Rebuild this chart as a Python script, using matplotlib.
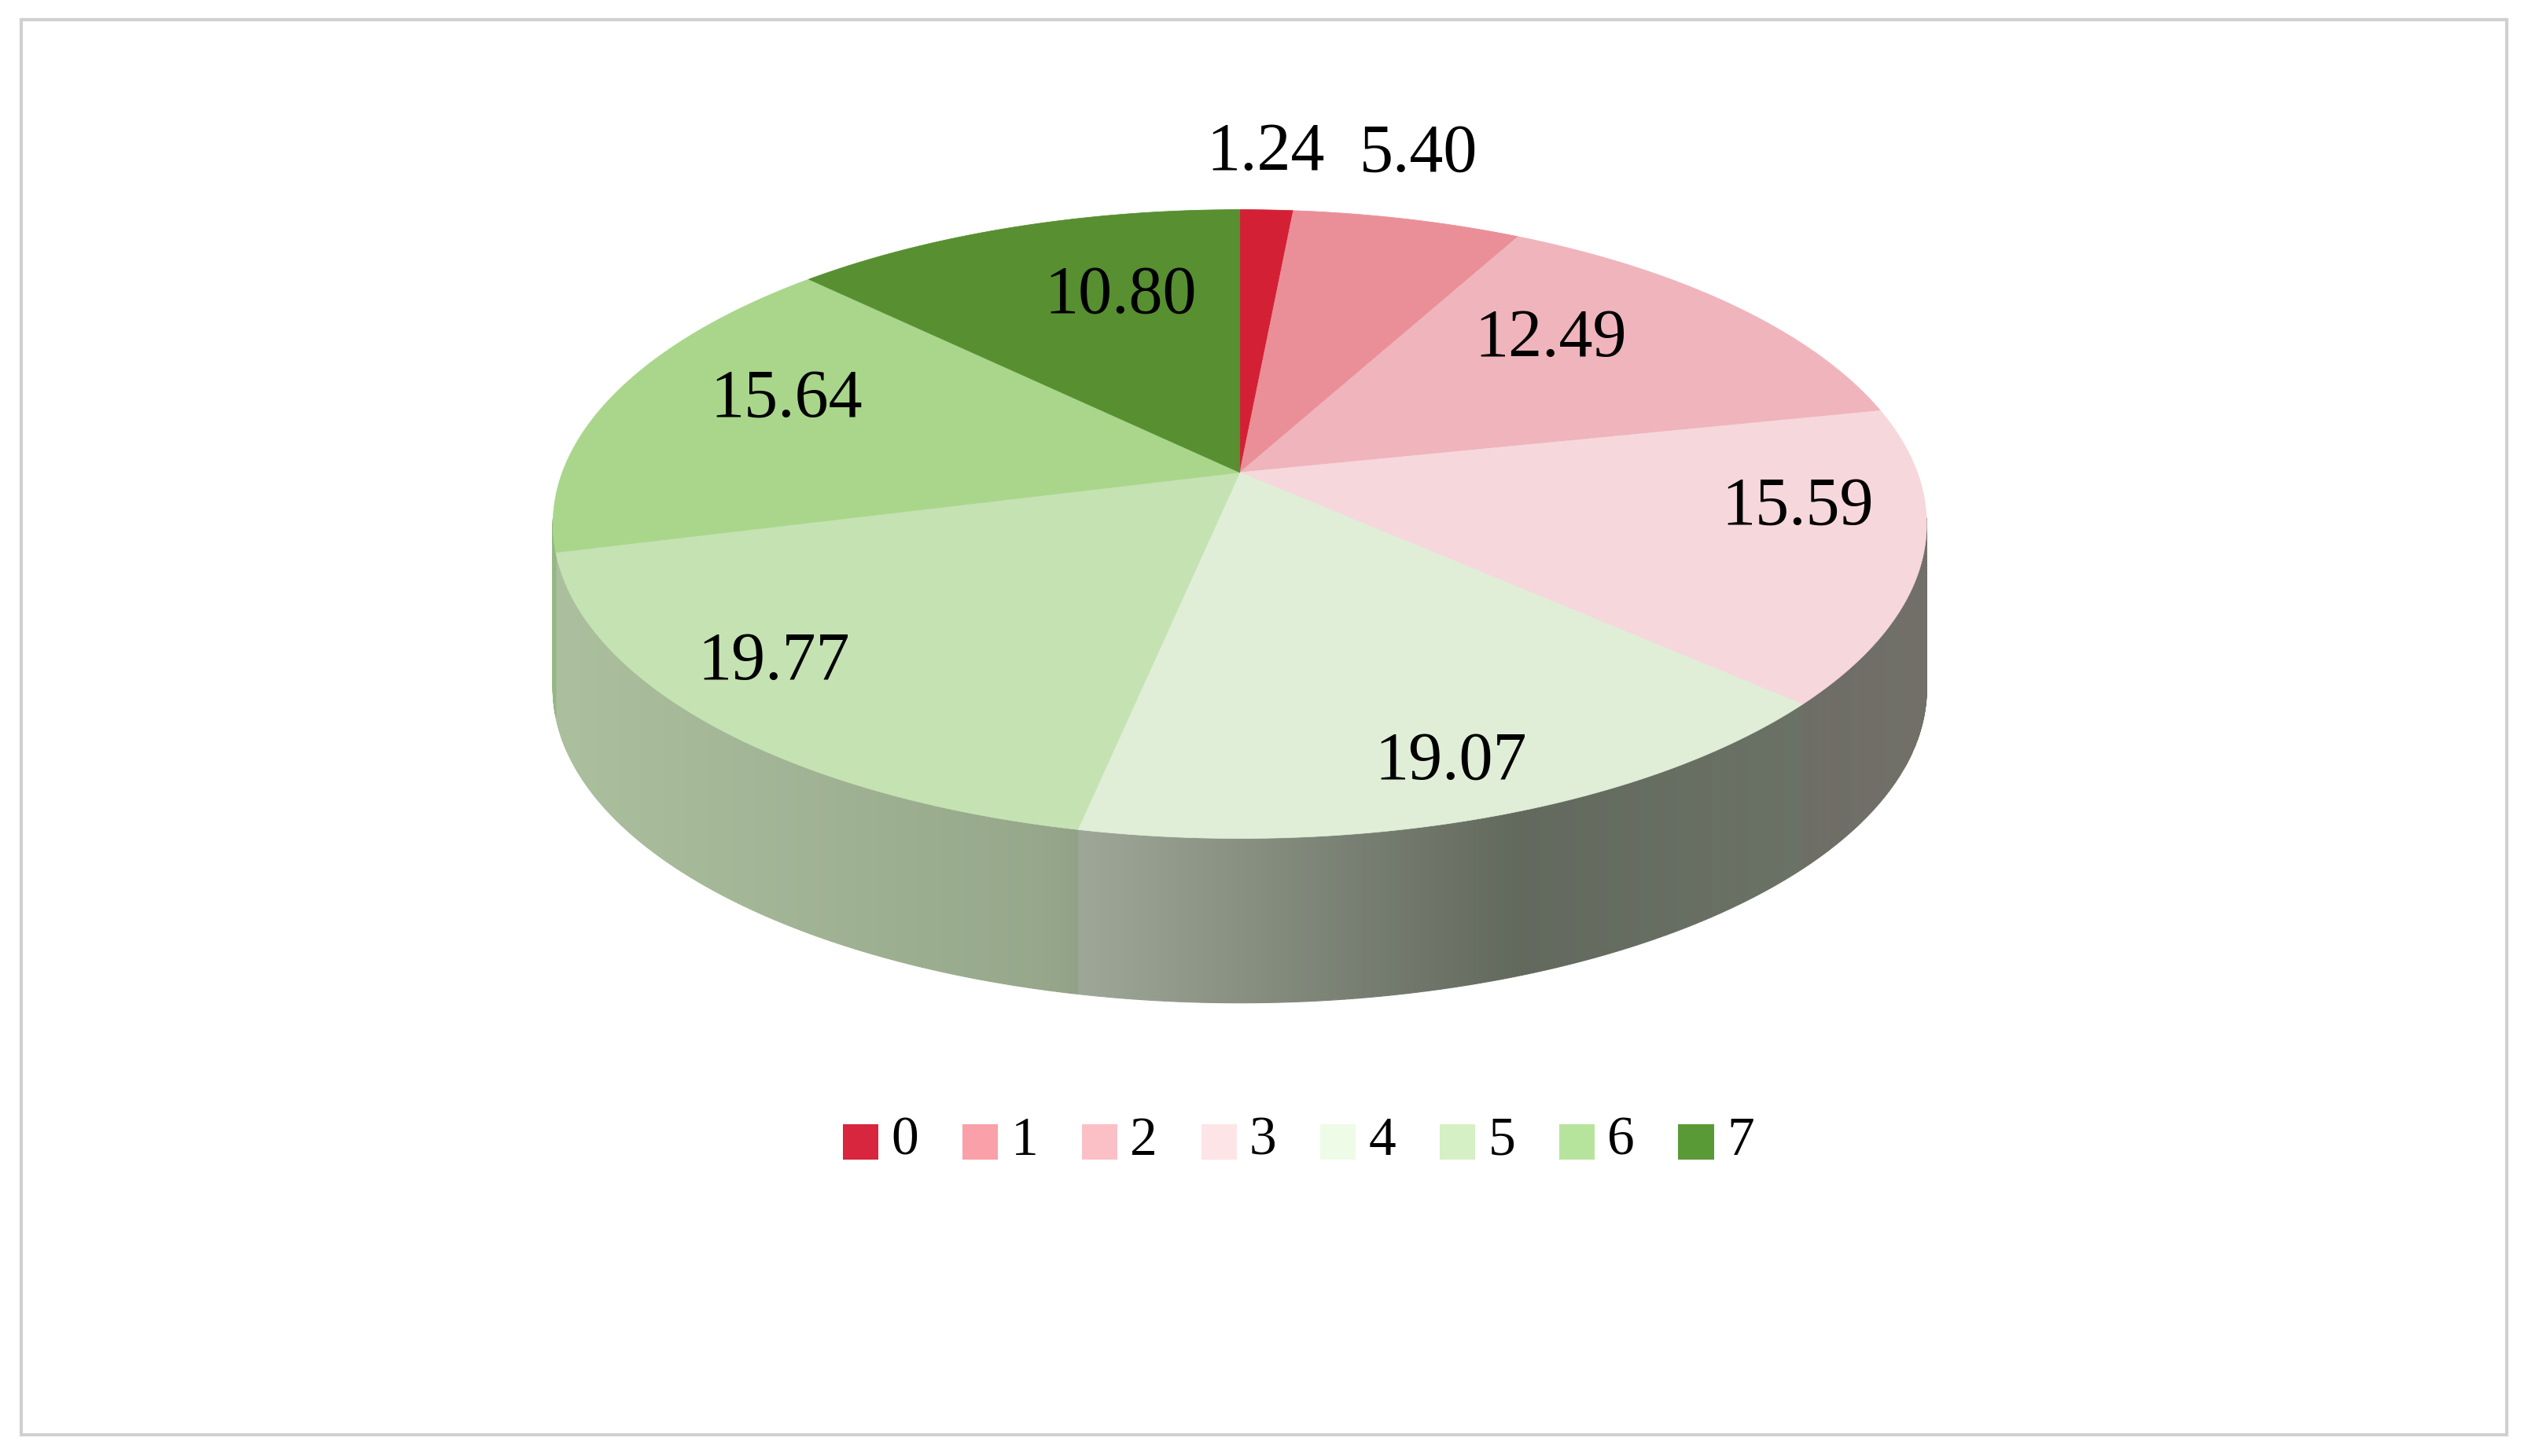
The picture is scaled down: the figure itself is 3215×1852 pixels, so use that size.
import numpy as np
import matplotlib.pyplot as plt
from matplotlib.patches import Polygon, Rectangle
from matplotlib.colors import to_rgb

# data
cats = ['0', '1', '2', '3', '4', '5', '6', '7']
vals = [1.24, 5.40, 12.49, 15.59, 19.07, 19.77, 15.64, 10.80]
top_cols = ['#d42035', '#ea8f98', '#f0b4bc', '#f6d7dc', '#e0eed8', '#c5e2b3', '#a9d68b', '#578f31']
leg_cols = ['#d7263d', '#f9a0a8', '#fbc0c6', '#fde4e7', '#eefbe6', '#d5f0c4', '#b7e49d', '#5a9a36']
lab_pos = [(785, 95), (880, 96), (962, 211), (1115, 315), (900, 473), (480, 411), (488, 248), (695, 184)]

fig = plt.figure(figsize=(32.15, 18.52), dpi=100)
ax = fig.add_axes([0, 0, 1, 1])
ax.set_xlim(0, 1568)
ax.set_ylim(903, 0)
ax.axis('off')

ax.add_patch(Rectangle((13, 12), 1542, 878, fill=False, ec='#d0d0d0', lw=3))

cx, cy, rx, ry, depth = 769, 325, 426, 195, 102
ax0, ay0 = 769, 293

def pt(t):
    return cx + rx*np.cos(t), cy - ry*np.sin(t)

dark = np.array(to_rgb('#4a4f45'))
cum = np.concatenate([[0], np.cumsum(vals)])
bounds = np.deg2rad(90 - 360*cum/100)

# side wall (front half only)
for i in range(len(vals)):
    t1, t2 = bounds[i], bounds[i+1]
    ts = np.linspace(t1, t2, 200)
    c = np.array(to_rgb(leg_cols[i]))
    for a, b in zip(ts[:-1], ts[1:]):
        if np.sin((a+b)/2) > 0.02:
            continue
        x1, y1 = pt(a); x2, y2 = pt(b)
        w = np.interp(np.cos((a+b)/2), [-1, -0.3, 0.4, 1], [0.3, 0.45, 0.85, 0.78])
        col = (1-w)*c + w*dark
        ax.add_patch(Polygon([(x1, y1), (x2, y2), (x2, y2+depth), (x1, y1+depth)],
                             closed=True, fc=col, ec=col, lw=0.8))

# top faces
for i in range(len(vals)):
    ts = np.linspace(bounds[i], bounds[i+1], 200)
    xs, ys = pt(ts)
    poly = [(ax0, ay0)] + list(zip(xs, ys))
    ax.add_patch(Polygon(poly, closed=True, fc=top_cols[i], ec=top_cols[i], lw=0.5))
    ax.text(lab_pos[i][0], lab_pos[i][1], f'{vals[i]:.2f}', fontsize=62,
            family='Liberation Serif', ha='center', va='center', color='black')

# legend
for i, c in enumerate(cats):
    x = 523 + 74*i
    ax.add_patch(Rectangle((x, 697), 22, 22, fc=leg_cols[i], ec='none'))
    ax.text(x + 30, 708, c, fontsize=50, family='Liberation Serif', ha='left', va='center')

fig.savefig('out.png', dpi=100)
